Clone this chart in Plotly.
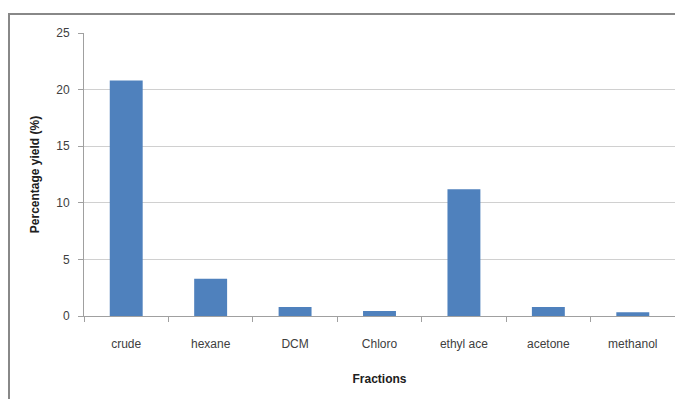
import plotly.graph_objects as go

categories = ["crude", "hexane", "DCM", "Chloro", "ethyl ace", "acetone", "methanol"]
yields = [20.8, 3.3, 0.8, 0.45, 11.2, 0.8, 0.33]
y_ticks = [0, 5, 10, 15, 20, 25]

# page body has an 8px default margin, so the figure is drawn 8px in from the window edge
OFF = 8
W, H = 683 - OFF, 399 - OFF
ml, mr, mt, mb = 84 - OFF, 8, 33 - OFF, 83
pw, ph = W - ml - mr, H - mt - mb

font = "Liberation Sans Narrow, Liberation Sans, Arial, sans-serif"

fig = go.Figure(go.Bar(x=categories, y=yields, marker=dict(color="#4f81bd", line=dict(width=0))))

fig.update_layout(
    width=W, height=H,
    margin=dict(l=ml, r=mr, t=mt, b=mb, autoexpand=False),
    paper_bgcolor="white", plot_bgcolor="white",
    bargap=0.61,
    showlegend=False,
    font=dict(family=font, size=12, color="#404040"),
    xaxis=dict(
        automargin=False,
        showline=True, linecolor="#a0a0a0", linewidth=1,
        ticks="outside", tickson="boundaries", ticklen=5, tickcolor="#a0a0a0",
        ticklabelstandoff=17,
        tickfont=dict(size=12, color="#404040"),
        title=dict(text="<b>Fractions</b>", font=dict(size=12, color="#202020"), standoff=24),
        showgrid=False,
    ),
    yaxis=dict(
        automargin=False,
        range=[0, 25], tickvals=y_ticks,
        showline=True, linecolor="#a0a0a0", linewidth=1,
        ticks="outside", ticklen=5, tickcolor="#a0a0a0",
        ticklabelstandoff=6,
        showgrid=True, gridcolor="#d0d0d0", gridwidth=1,
        zeroline=False,
        tickfont=dict(size=12, color="#404040"),
        title=dict(text="<b>Percentage yield (%)</b>", font=dict(size=12, color="#202020"), standoff=14),
    ),
)

# outer chart border
fig.add_shape(type="rect", xref="paper", yref="paper",
              x0=(9 - OFF - ml) / pw, x1=(W + 10 - ml) / pw,
              y0=-(mb + 20) / ph, y1=((H - mb) - (14 - OFF)) / ph,
              line=dict(color="#888888", width=2), fillcolor="rgba(0,0,0,0)", layer="below")

fig.write_html("out.html")
